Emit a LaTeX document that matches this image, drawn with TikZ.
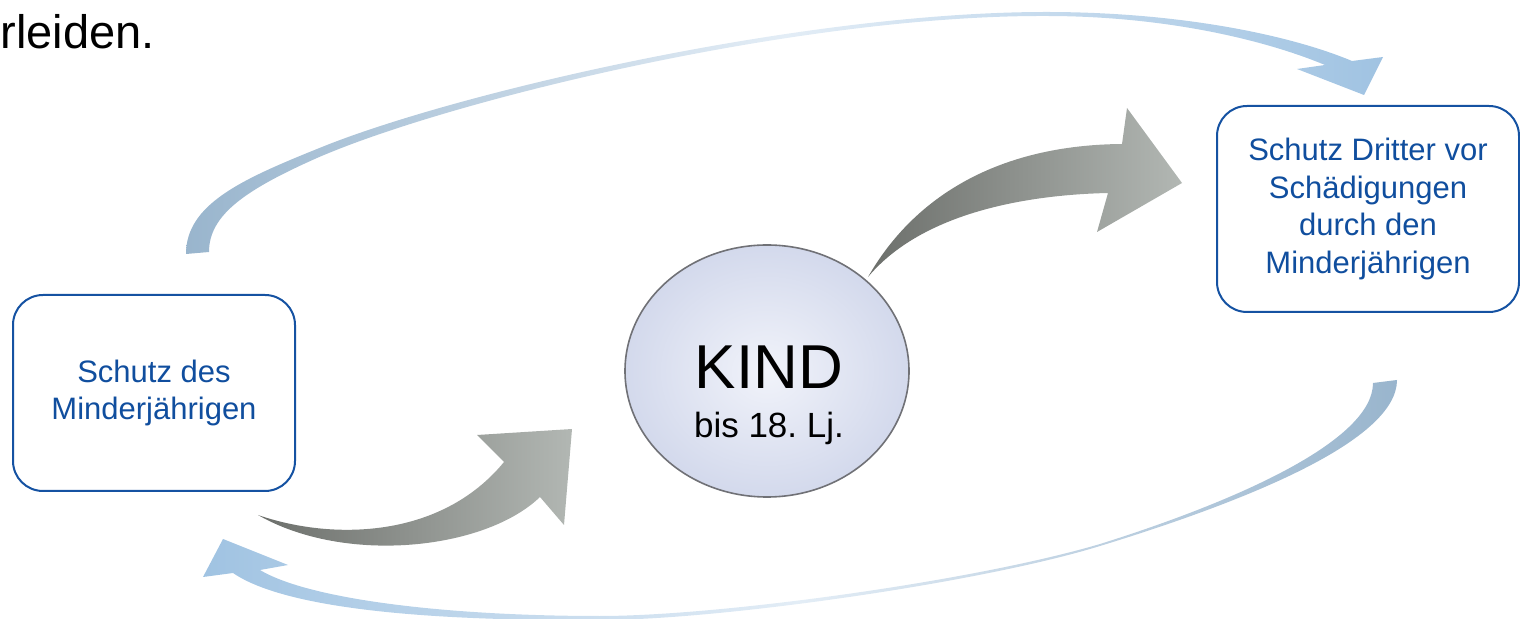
\documentclass[tikz,border=0pt]{standalone}
\usepackage{fontspec}
\setmainfont{Liberation Sans}
\usetikzlibrary{shapes.geometric}
\definecolor{boxblue}{HTML}{1552A2}
\definecolor{boxtext}{HTML}{104E9E}
\definecolor{arcblue}{HTML}{A0C3E2}
\definecolor{arcgray}{HTML}{99B5CD}
\definecolor{arcpale}{HTML}{E3EDF6}
\definecolor{gdark}{HTML}{6C6F6B}
\definecolor{glight}{HTML}{B2B7B3}
\definecolor{ringgray}{HTML}{707176}
\definecolor{kindin}{HTML}{F1F3FA}
\definecolor{kindout}{HTML}{D3D9EC}
\frenchspacing
\begin{document}
\begin{tikzpicture}[x=0.5pt,y=-0.5pt,
  box/.style={draw=boxblue, line width=1pt, rounded corners=15pt, text=boxtext,
    align=center, font=\fontsize{15.5}{18.75}\selectfont, inner sep=0pt},
  grayarrow/.style={left color=gdark, right color=glight}]
\useasboundingbox (0,0) rectangle (1520,619);

% heading fragment
\node[anchor=base west, inner sep=0pt, font=\fontsize{23.5}{28}\selectfont] (head) at (0,49) {rleiden.};

% top blue arc
\shade[left color=arcgray, right color=arcblue, middle color=arcpale]
  (186,254) .. controls (186,205) and (240,180) .. (317,149)
  .. controls (450,94) and (800,12) .. (1046,12)
  .. controls (1180,12) and (1290,35) .. (1352,61)
  -- (1383,57) -- (1364,95) -- (1297,69) -- (1325,65)
  .. controls (1260,38) and (1160,16) .. (1046,16)
  .. controls (800,15) and (450,100) .. (317,158)
  .. controls (245,190) and (209,215) .. (209,252)
  -- cycle;

% bottom blue arc
\shade[left color=arcblue, right color=arcgray, middle color=arcpale]
  (1397,380) .. controls (1397,440) and (1250,500) .. (1100,546)
  .. controls (980,583) and (720,620) .. (600,620)
  .. controls (450,621) and (290,612) .. (233,573)
  -- (203,577) -- (223,539) -- (288,565) -- (260,570)
  .. controls (310,600) and (450,616) .. (600,616)
  .. controls (720,616) and (975,581) .. (1100,544)
  .. controls (1240,500) and (1373,440) .. (1373,383)
  -- cycle;

% gray arrow lower left
\shade[grayarrow]
  (258,515) .. controls (330,540) and (440,540) .. (504,462)
  -- (477,435) -- (572,429) -- (564,525) -- (540,497)
  .. controls (485,550) and (345,565) .. (258,515)
  -- cycle;

% gray arrow upper right
\shade[grayarrow]
  (868,277) .. controls (915,195) and (1000,145) .. (1122,144)
  -- (1127,108) -- (1182,183) -- (1097,232) -- (1108,193)
  .. controls (1020,195) and (920,215) .. (868,277)
  -- cycle;

% boxes
\node[box, minimum width=141pt, minimum height=98pt] (lbox) at (154,393) {Schutz des\\Minderjährigen};
\node[box, minimum width=151pt, minimum height=103pt] (rbox) at (1368,209) {Schutz Dritter vor\\Schädigungen\\durch den\\Minderjährigen};

% central ellipse
\node[ellipse, minimum width=142pt, minimum height=126pt, inner sep=0pt,
  draw=ringgray, line width=0.8pt, inner color=kindin, outer color=kindout] (kind) at (767,371) {};
\node[anchor=base, inner sep=0pt, font=\fontsize{31}{36}\selectfont] (kindtxt) at (769,389) {KIND};
\node[anchor=base, inner sep=0pt, font=\fontsize{17.5}{21}\selectfont] (age) at (769,438) {bis 18. Lj.};
\end{tikzpicture}
\end{document}
